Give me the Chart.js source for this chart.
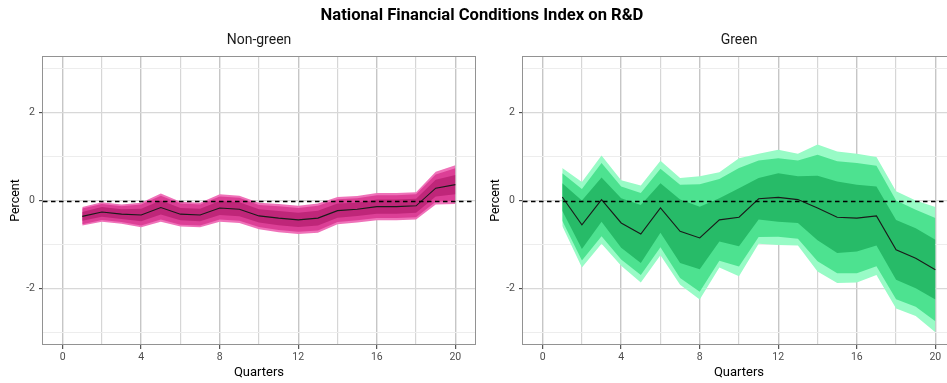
<!DOCTYPE html>
<html>
<head>
<meta charset="utf-8">
<script src="https://cdn.jsdelivr.net/npm/chart.js@4.4.1/dist/chart.umd.min.js"></script>
<style>
  html, body { margin: 0; padding: 0; width: 947px; height: 383px; overflow: hidden; background: #ffffff; }
  #wrap { position: relative; width: 964px; height: 383px; }
  .panel { position: absolute; top: 0; width: 480px; height: 383px; }
  #title { position: absolute; left: 0; top: 6.5px; width: 964px; text-align: center;
           font: bold 16.6px Roboto, sans-serif; line-height: 1; color: #000; z-index: 2; }
</style>
</head>
<body>
<div id="wrap">
  <div class="panel" style="left:0"><canvas id="nonGreen" width="480" height="383"></canvas></div>
  <div class="panel" style="left:480px"><canvas id="green" width="480" height="383"></canvas></div>
  <div id="title">National Financial Conditions Index on R&amp;D</div>
</div>
<script>
// Horizon (quarters after the shock)
const quarters = [1, 2, 3, 4, 5, 6, 7, 8, 9, 10, 11, 12, 13, 14, 15, 16, 17, 18, 19, 20];

// Axis ticks: every tick gets a grid line, only the labelled ones get a label
const xTicks = [0, 2, 4, 6, 8, 10, 12, 14, 16, 18, 20];
const xLabelTicks = [0, 4, 8, 12, 16, 20];
const yTicks = [-3, -2, -1, 0, 1, 2, 3];
const yLabelTicks = [-2, 0, 2];
const zeroLine = 0;

// Non-green firms: median response and credible bands
const nonGreenMedian = [-0.36, -0.26, -0.31, -0.33, -0.16, -0.31, -0.33, -0.17, -0.20, -0.35, -0.40, -0.44, -0.40, -0.23, -0.20, -0.14, -0.14, -0.12, 0.28, 0.36];
const nonGreenLo68 = [-0.46, -0.37, -0.42, -0.47, -0.32, -0.45, -0.47, -0.33, -0.36, -0.50, -0.56, -0.60, -0.57, -0.39, -0.35, -0.30, -0.30, -0.28, 0.09, 0.14];
const nonGreenHi68 = [-0.26, -0.15, -0.20, -0.19, 0.00, -0.17, -0.19, -0.01, -0.04, -0.20, -0.24, -0.28, -0.23, -0.07, -0.05, 0.02, 0.02, 0.04, 0.47, 0.58];
const nonGreenLo90 = [-0.54, -0.44, -0.49, -0.57, -0.43, -0.55, -0.57, -0.43, -0.46, -0.60, -0.67, -0.71, -0.68, -0.49, -0.45, -0.40, -0.40, -0.38, -0.03, -0.01];
const nonGreenHi90 = [-0.18, -0.08, -0.13, -0.09, 0.11, -0.07, -0.09, 0.09, 0.06, -0.10, -0.13, -0.17, -0.12, 0.03, 0.05, 0.12, 0.12, 0.14, 0.59, 0.73];
const nonGreenLo95 = [-0.57, -0.48, -0.53, -0.61, -0.48, -0.59, -0.61, -0.48, -0.51, -0.65, -0.72, -0.76, -0.73, -0.54, -0.50, -0.45, -0.45, -0.43, -0.09, -0.08];
const nonGreenHi95 = [-0.15, -0.04, -0.09, -0.05, 0.16, -0.03, -0.05, 0.14, 0.11, -0.05, -0.08, -0.12, -0.07, 0.08, 0.10, 0.17, 0.17, 0.19, 0.65, 0.80];

// Green firms: median response and credible bands
const greenMedian = [0.08, -0.55, 0.02, -0.51, -0.76, -0.17, -0.70, -0.85, -0.44, -0.38, 0.04, 0.07, 0.02, -0.17, -0.38, -0.40, -0.35, -1.12, -1.31, -1.57];
const greenLo68 = [-0.23, -1.10, -0.48, -1.07, -1.42, -0.73, -1.42, -1.56, -0.93, -1.04, -0.43, -0.48, -0.51, -0.90, -1.19, -1.16, -1.02, -1.80, -1.99, -2.25];
const greenHi68 = [0.39, 0.00, 0.52, 0.05, -0.10, 0.39, 0.02, -0.14, 0.05, 0.28, 0.51, 0.62, 0.55, 0.56, 0.43, 0.36, 0.32, -0.44, -0.63, -0.89];
const greenLo90 = [-0.46, -1.36, -0.81, -1.34, -1.69, -1.06, -1.76, -2.07, -1.37, -1.50, -0.83, -0.82, -0.87, -1.38, -1.65, -1.65, -1.49, -2.24, -2.41, -2.74];
const greenHi90 = [0.62, 0.26, 0.85, 0.32, 0.17, 0.72, 0.36, 0.37, 0.49, 0.74, 0.91, 0.96, 0.91, 1.04, 0.89, 0.85, 0.79, 0.00, -0.21, -0.40];
const greenLo95 = [-0.58, -1.52, -0.98, -1.48, -1.86, -1.24, -1.91, -2.25, -1.52, -1.72, -0.98, -1.01, -1.02, -1.61, -1.87, -1.86, -1.69, -2.45, -2.62, -2.99];
const greenHi95 = [0.74, 0.42, 1.02, 0.46, 0.34, 0.90, 0.51, 0.55, 0.64, 0.96, 1.06, 1.15, 1.06, 1.27, 1.11, 1.06, 0.99, 0.21, 0.00, -0.15];

Chart.defaults.font.family = 'Roboto, sans-serif';

const toPoints = values => quarters.map((q, i) => ({ x: q, y: values[i] }));

// Frame around the plotting area plus the dashed reference line at zero
const panelDecor = {
  id: 'panelDecor',
  afterDatasetsDraw(chart) {
    const { ctx, chartArea: a, scales: { y } } = chart;
    const yz = Math.round(y.getPixelForValue(zeroLine)) + 0.5;
    ctx.save();
    ctx.beginPath();
    ctx.rect(a.left, a.top, a.right - a.left, a.bottom - a.top);
    ctx.clip();
    ctx.strokeStyle = '#000000';
    ctx.lineWidth = 1.3;
    ctx.setLineDash([4.5, 3.5]);
    ctx.beginPath();
    ctx.moveTo(a.left, yz);
    ctx.lineTo(a.right, yz);
    ctx.stroke();
    ctx.restore();
  },
  afterDraw(chart) {
    const { ctx, chartArea: a } = chart;
    ctx.save();
    ctx.strokeStyle = '#929292';
    ctx.lineWidth = 1;
    ctx.strokeRect(Math.round(a.left) - 0.5, Math.round(a.top) + 0.5,
                   Math.round(a.right - a.left) + 1, Math.round(a.bottom - a.top) - 1);
    ctx.restore();
  }
};

function band(hi, lo, color, order, loIndex) {
  return [
    { data: toPoints(hi), backgroundColor: color, borderWidth: 0, pointRadius: 0,
      fill: loIndex, order: order },
    { data: toPoints(lo), backgroundColor: color, borderWidth: 0, pointRadius: 0,
      fill: false, order: order }
  ];
}

function makePanel(canvasId, title, median, lo68, hi68, lo90, hi90, lo95, hi95, colors) {
  const datasets = [
    { data: toPoints(median), borderColor: '#1a1a1a', borderWidth: 1.1, pointRadius: 0,
      fill: false, tension: 0, order: 0 },
    ...band(hi68, lo68, colors[0], 1, 2),
    ...band(hi90, lo90, colors[1], 2, 4),
    ...band(hi95, lo95, colors[2], 3, 6)
  ];
  return new Chart(document.getElementById(canvasId), {
    type: 'line',
    data: { datasets },
    plugins: [panelDecor],
    options: {
      responsive: false,
      animation: false,
      devicePixelRatio: 1,
      layout: { padding: { top: 0, left: 0, right: 5, bottom: 1 } },
      plugins: {
        legend: { display: false },
        tooltip: { enabled: false },
        title: {
          display: true, text: title, fullSize: false, color: '#1a1a1a',
          font: { size: 14, weight: 'normal' },
          padding: { top: 32.5, bottom: 6.7 }
        }
      },
      scales: {
        x: {
          type: 'linear', min: -1, max: 21,
          afterBuildTicks: s => { s.ticks = xTicks.map(v => ({ value: v })); },
          afterFit: s => { s.height = 37; },
          ticks: {
            autoSkip: false, maxRotation: 0, padding: 2, color: '#4d4d4d',
            font: { size: 10.5 },
            callback: v => (xLabelTicks.includes(v) ? String(v) : '')
          },
          grid: {
            drawTicks: true, tickLength: 4,
            color: c => (c.tick && c.tick.value % 4 === 0 ? '#c6c6c6' : '#d6d6d6'),
            lineWidth: c => (c.tick && c.tick.value % 4 === 0 ? 1.4 : 1.2),
            tickColor: c => (c.tick && xLabelTicks.includes(c.tick.value) ? '#333333' : 'rgba(0,0,0,0)'),
            tickWidth: 1
          },
          border: { display: false },
          title: { display: true, text: 'Quarters', color: '#000', font: { size: 13 },
                   padding: { top: 0, bottom: 1.2 } }
        },
        y: {
          type: 'linear', min: -3.28, max: 3.28,
          afterBuildTicks: s => { s.ticks = yTicks.map(v => ({ value: v })); },
          afterFit: s => { s.width = 43; },
          ticks: {
            padding: 4, color: '#4d4d4d', font: { size: 10.5 },
            callback: v => (yLabelTicks.includes(v) ? String(v) : '')
          },
          grid: {
            drawTicks: true, tickLength: 4,
            color: c => (c.tick && c.tick.value % 2 === 0 ? '#d8d8d8' : '#ededed'),
            lineWidth: c => (c.tick && c.tick.value % 2 === 0 ? 1.3 : 1.1),
            tickColor: c => (c.tick && yLabelTicks.includes(c.tick.value) ? '#333333' : 'rgba(0,0,0,0)'),
            tickWidth: 1
          },
          border: { display: false },
          title: { display: true, text: 'Percent', color: '#000', font: { size: 12.5 },
                   padding: { top: 8.5, bottom: 0 } }
        }
      }
    }
  });
}

makePanel('nonGreen', 'Non-green', nonGreenMedian, nonGreenLo68, nonGreenHi68,
          nonGreenLo90, nonGreenHi90, nonGreenLo95, nonGreenHi95,
          ['#bf2679', '#dc3f96', '#ef72b9']);
makePanel('green', 'Green', greenMedian, greenLo68, greenHi68,
          greenLo90, greenHi90, greenLo95, greenHi95,
          ['#27bb68', '#4de290', '#98fbc6']);
</script>
</body>
</html>
